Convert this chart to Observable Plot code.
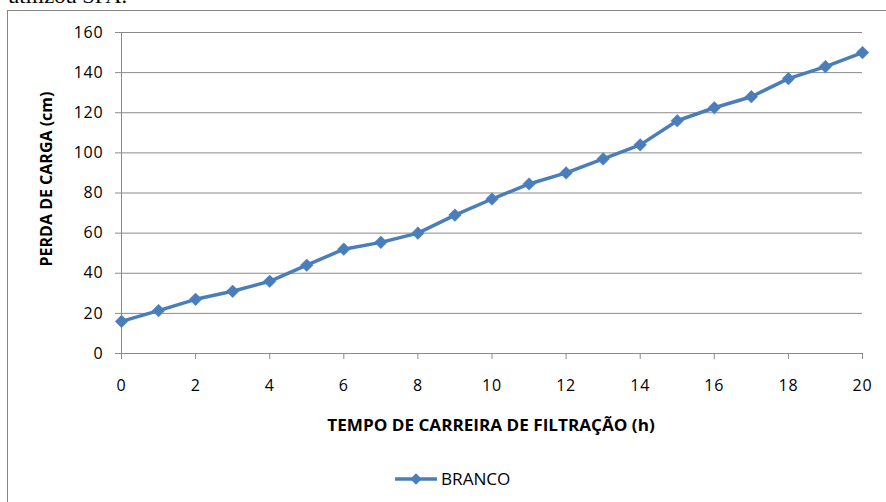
<!DOCTYPE html>
<html>
<head>
<meta charset="utf-8">
<script src="https://cdn.jsdelivr.net/npm/d3@7"></script>
<script src="https://cdn.jsdelivr.net/npm/@observablehq/plot@0.6"></script>
<style>
  html, body { margin: 0; padding: 0; background: #fff; }
  #wrap { position: relative; width: 886px; height: 502px; overflow: hidden; background: #fff; }
  #frame { position: absolute; left: 7px; top: 10px; width: 900px; height: 520px; border: 1.5px solid #868686; box-sizing: border-box; }
  #above { position: absolute; left: 8px; top: -16px; font-family: "Liberation Serif", serif; font-size: 21px; color: #000; white-space: nowrap; transform: scaleX(1.07); transform-origin: left center; }
  #chart { position: absolute; left: 0; top: 0; }
  .title { position: absolute; font-family: "Open Sans", sans-serif; font-weight: bold; font-size: 16px; color: #000; white-space: nowrap; }
  #xtitle { left: 491px; top: 425px; transform: translate(-50%, -50%) scaleX(1.07); }
  #ytitle { left: 46px; top: 179px; transform: translate(-50%, -50%) rotate(-90deg); }
  #legend { position: absolute; left: 394px; top: 468px; height: 22px; display: flex; align-items: center; font-family: "Open Sans", sans-serif; font-size: 16px; color: #000; }
  #legend svg { margin-right: 3px; }
  #legend span { display: inline-block; transform: scaleX(1.07); transform-origin: left center; }
  #chart svg g[aria-label="y-axis tick label"] text,
  #chart svg g[aria-label="x-axis tick label"] text { letter-spacing: 0.8px; }
</style>
</head>
<body>
<div id="wrap">
  <div id="frame"></div>
  <div id="above">utilizou SPA.</div>
  <div id="chart"></div>
  <div class="title" id="xtitle"></div>
  <div class="title" id="ytitle"></div>
  <div id="legend"></div>
</div>
<script>
// Data
const hours = [0, 1, 2, 3, 4, 5, 6, 7, 8, 9, 10, 11, 12, 13, 14, 15, 16, 17, 18, 19, 20];
const branco = [16, 21.4, 27, 31, 36, 44, 52, 55.4, 60, 69, 77, 84.5, 90, 97, 104, 116, 122.5, 128, 137, 143, 150];
const yTicks = [0, 20, 40, 60, 80, 100, 120, 140, 160];
const xTicks = [0, 2, 4, 6, 8, 10, 12, 14, 16, 18, 20];
const seriesName = "BRANCO";
const xTitle = "TEMPO DE CARREIRA DE FILTRAÇÃO (h)";
const yTitle = "PERDA DE CARGA (cm)";

const data = hours.map((h, i) => ({h, v: branco[i]}));
const blue = "#4a7ebb";
const gridColor = "#8a8a8a";

const chart = Plot.plot({
  width: 886,
  height: 502,
  marginLeft: 121,
  marginRight: 24,
  marginTop: 32,
  marginBottom: 149,
  style: {fontFamily: "Open Sans, sans-serif", fontSize: "16px", color: "#000", background: "transparent", overflow: "visible"},
  x: {domain: [0, 20]},
  y: {domain: [0, 160]},
  marks: [
    Plot.gridY(yTicks.filter(d => d > 0), {stroke: gridColor, strokeOpacity: 1, strokeWidth: 1}),
    Plot.ruleY([0], {stroke: gridColor, strokeWidth: 1}),
    Plot.ruleX([0], {stroke: gridColor, strokeWidth: 1}),
    Plot.axisY(yTicks, {tickSize: 6, tickPadding: 12, stroke: gridColor, label: null, fill: "#000"}),
    Plot.axisX(xTicks, {tickSize: 6, tickPadding: 20, stroke: gridColor, label: null, fill: "#000"}),
    Plot.line(data, {x: "h", y: "v", stroke: blue, strokeWidth: 3.5}),
    Plot.dot(data, {x: "h", y: "v", symbol: "diamond2", r: 5.7, fill: blue, stroke: blue, strokeWidth: 0.5})
  ]
});
document.getElementById("chart").appendChild(chart);

document.getElementById("xtitle").textContent = xTitle;
document.getElementById("ytitle").textContent = yTitle;

const legend = document.getElementById("legend");
const sw = d3.create("svg").attr("width", 44).attr("height", 16);
sw.append("line").attr("x1", 1).attr("x2", 43).attr("y1", 8).attr("y2", 8).attr("stroke", blue).attr("stroke-width", 3.5);
sw.append("path").attr("d", d3.symbol(d3.symbolDiamond2, Math.PI * 5.2 * 5.2)()).attr("transform", "translate(22,8)").attr("fill", blue);
legend.appendChild(sw.node());
const lt = document.createElement("span");
lt.textContent = seriesName;
legend.appendChild(lt);
</script>
</body>
</html>
